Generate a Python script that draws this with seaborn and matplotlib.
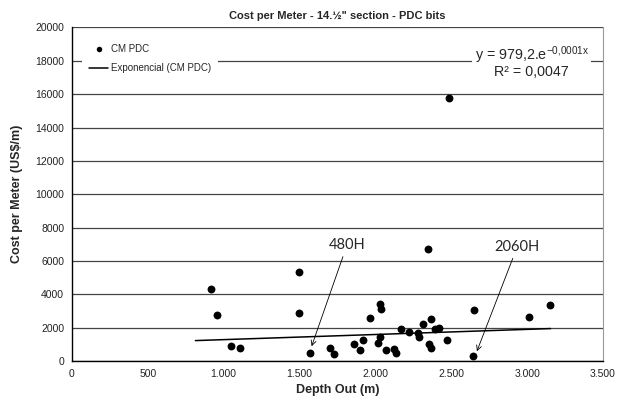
import matplotlib
matplotlib.use("Agg")
import matplotlib.pyplot as plt
import pandas as pd
import seaborn as sns
from matplotlib.ticker import FixedLocator, FixedFormatter

# bit runs: depth out (m) vs cost per meter (US$/m)
depth_out = [920, 957, 1049, 1105, 1497, 1500, 1568, 1700, 1730, 1862, 1897, 1916,
             1965, 2030, 2036, 2030, 2018, 2072, 2124, 2137, 2170, 2223, 2284, 2287,
             2314, 2365, 2352, 2365, 2395, 2421, 2472, 2647, 2646, 3011, 3151, 2350, 2488]
cost_per_meter = [4300, 2780, 920, 820, 5330, 2920, 500, 810, 460, 1020, 660, 1250,
                  2600, 3440, 3110, 1430, 1080, 670, 710, 500, 1910, 1750, 1670, 1450,
                  2210, 2560, 1030, 810, 1960, 2000, 1260, 3090, 330, 2680, 3360, 6750, 15750]

# exponential trendline (Excel), read at its two ends
trend_x = [814, 3155]
trend_y = [1240, 1960]

x_ticks = [0, 500, 1000, 1500, 2000, 2500, 3000, 3500]
x_tick_labels = ["0", "500", "1.000", "1.500", "2.000", "2.500", "3.000", "3.500"]
y_ticks = [0, 2000, 4000, 6000, 8000, 10000, 12000, 14000, 16000, 18000, 20000]

# annotated bits: label, text position, arrow tip
bit_labels = ["480H", "2060H"]
bit_text_xy = [(1813, 6960), (2935, 6860)]
bit_tip_xy = [(1580, 900), (2669, 600)]


def main() -> None:
    sns.set_style("white")
    plt.rcParams["font.family"] = ["Liberation Sans", "DejaVu Sans"]
    plt.rcParams["mathtext.fontset"] = "custom"
    plt.rcParams["mathtext.rm"] = "Liberation Sans"
    plt.rcParams["mathtext.default"] = "regular"

    df = pd.DataFrame({"depth": depth_out, "cost": cost_per_meter})
    trend = pd.DataFrame({"depth": trend_x, "cost": trend_y})

    fig = plt.figure(figsize=(6.23, 4.04), dpi=100)
    ax = fig.add_axes([0.1153, 0.1057, 0.8526, 0.8267])

    ax.yaxis.grid(True, color="#444444", linewidth=0.9)
    ax.set_axisbelow(True)

    sns.scatterplot(data=df, x="depth", y="cost", ax=ax, color="black", s=32,
                    edgecolor="black", linewidth=0, label="CM PDC", zorder=3)
    sns.lineplot(data=trend, x="depth", y="cost", ax=ax, color="black",
                 linewidth=1.1, label="Exponencial (CM PDC)", zorder=2)

    ax.set_xlim(0, 3500)
    ax.set_ylim(0, 20000)
    ax.xaxis.set_major_locator(FixedLocator(x_ticks))
    ax.xaxis.set_major_formatter(FixedFormatter(x_tick_labels))
    ax.yaxis.set_major_locator(FixedLocator(y_ticks))
    ax.tick_params(axis="both", direction="out", length=3.5, width=0.8,
                   labelsize=7.5, labelcolor="#222222", color="black", pad=2)

    ax.spines["top"].set_visible(False)
    ax.spines["right"].set_color("#999999")
    ax.spines["right"].set_linewidth(0.8)
    for side in ["left", "bottom"]:
        ax.spines[side].set_color("black")
        ax.spines[side].set_linewidth(1.0)

    ax.set_title("Cost per Meter - 14.\u00bd\" section - PDC bits", fontsize=8,
                 fontweight="bold", pad=6)
    ax.set_xlabel("Depth Out (m)", fontsize=9, fontweight="bold", labelpad=4)
    ax.set_ylabel("Cost per Meter (US$/m)", fontsize=9, fontweight="bold", labelpad=9)

    leg = ax.legend(loc="upper left", bbox_to_anchor=(0.01, 0.985), fontsize=7,
                    frameon=True, fancybox=False, labelspacing=0.95, handlelength=2.0,
                    handletextpad=0.25, borderpad=0.7, markerscale=0.7)
    leg.get_frame().set_facecolor("white")
    leg.get_frame().set_edgecolor("none")
    leg.get_frame().set_alpha(1)

    ax.text(3030, 18330, "y = 979,2.e$^{-0{,}0001x}$", ha="center", va="center",
            fontsize=10.3, bbox=dict(facecolor="white", edgecolor="none", pad=1.5))
    ax.text(3030, 17350, "R\u00b2 = 0,0047", ha="center", va="center", fontsize=10.3)

    for label, txt, tip in zip(bit_labels, bit_text_xy, bit_tip_xy):
        ax.annotate(label, xy=tip, xytext=txt, ha="center", va="center",
                    fontsize=10.5, family=["Lato", "DejaVu Sans"],
                    arrowprops=dict(arrowstyle="->", color="black", lw=0.6,
                                    shrinkA=1, shrinkB=0, mutation_scale=9))

    fig.savefig("out.png", dpi=100)
    plt.close(fig)


if __name__ == "__main__":
    main()
